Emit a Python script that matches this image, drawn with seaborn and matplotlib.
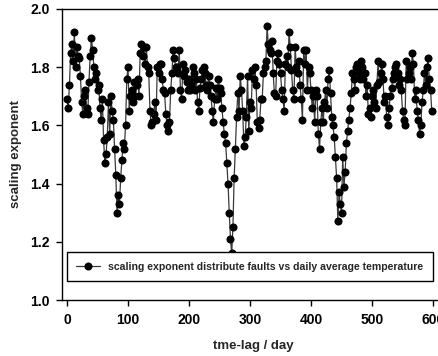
import numpy as np
import pandas as pd
import matplotlib
matplotlib.use("Agg")
import matplotlib.pyplot as plt
import seaborn as sns

# time lag (days), step of 2 days
lag_start = 0
lag_step = 2

# scaling exponent values, rows of 10 points (20 days each)
scaling_exponent = [
    1.69, 1.66, 1.74, 1.85, 1.88, 1.82, 1.92, 1.80, 1.87, 1.84,
    1.83, 1.77, 1.68, 1.64, 1.70, 1.72, 1.66, 1.64, 1.75, 1.84,
    1.90, 1.86, 1.80, 1.76, 1.78, 1.72, 1.74, 1.66, 1.62, 1.69,
    1.55, 1.47, 1.50, 1.56, 1.68, 1.57, 1.70, 1.65, 1.62, 1.52,
    1.43, 1.30, 1.36, 1.33, 1.42, 1.48, 1.54, 1.52, 1.60, 1.76,
    1.80, 1.65, 1.70, 1.72, 1.68, 1.75, 1.70, 1.74, 1.76, 1.70,
    1.85, 1.88, 1.84, 1.87, 1.81, 1.87, 1.80, 1.78, 1.65, 1.60,
    1.61, 1.64, 1.68, 1.62, 1.80, 1.78, 1.81, 1.81, 1.76, 1.72,
    1.71, 1.64, 1.60, 1.58, 1.61, 1.72, 1.78, 1.86, 1.83, 1.80,
    1.80, 1.78, 1.86, 1.72, 1.69, 1.81, 1.77, 1.79, 1.75, 1.72,
    1.76, 1.72, 1.74, 1.80, 1.78, 1.72, 1.76, 1.68, 1.65, 1.73,
    1.76, 1.79, 1.80, 1.78, 1.74, 1.72, 1.77, 1.74, 1.70, 1.65,
    1.61, 1.69, 1.73, 1.69, 1.76, 1.73, 1.71, 1.66, 1.61, 1.57,
    1.54, 1.47, 1.40, 1.30, 1.21, 1.16, 1.25, 1.42, 1.52, 1.63,
    1.71, 1.65, 1.77, 1.72, 1.65, 1.53, 1.56, 1.63, 1.77, 1.58,
    1.68, 1.66, 1.79, 1.76, 1.80, 1.74, 1.61, 1.59, 1.62, 1.69,
    1.69, 1.78, 1.80, 1.82, 1.94, 1.88, 1.86, 1.85, 1.89, 1.78,
    1.71, 1.70, 1.82, 1.85, 1.81, 1.78, 1.72, 1.69, 1.65, 1.81,
    1.84, 1.80, 1.92, 1.87, 1.79, 1.72, 1.69, 1.87, 1.80, 1.78,
    1.82, 1.74, 1.69, 1.62, 1.86, 1.81, 1.86, 1.72, 1.80, 1.78,
    1.72, 1.66, 1.70, 1.61, 1.72, 1.70, 1.57, 1.52, 1.61, 1.66,
    1.61, 1.68, 1.72, 1.66, 1.76, 1.79, 1.71, 1.63, 1.60, 1.56,
    1.49, 1.42, 1.27, 1.37, 1.33, 1.30, 1.49, 1.39, 1.44, 1.54,
    1.58, 1.62, 1.66, 1.71, 1.78, 1.76, 1.72, 1.80, 1.81, 1.78,
    1.76, 1.82, 1.80, 1.76, 1.78, 1.70, 1.74, 1.64, 1.66, 1.63,
    1.70, 1.72, 1.68, 1.66, 1.74, 1.82, 1.75, 1.78, 1.81, 1.76,
    1.68, 1.70, 1.63, 1.60, 1.66, 1.70, 1.73, 1.76, 1.78, 1.80,
    1.81, 1.78, 1.74, 1.76, 1.72, 1.65, 1.62, 1.60, 1.82, 1.76,
    1.78, 1.80, 1.76, 1.85, 1.81, 1.69, 1.72, 1.65, 1.62, 1.57,
    1.60, 1.68, 1.72, 1.78, 1.74, 1.80, 1.83, 1.76, 1.72, 1.65,
]
time_lag = [lag_start + lag_step * i for i in range(len(scaling_exponent))]

x_ticks = [0, 100, 200, 300, 400, 500, 600]
y_ticks = [1.0, 1.2, 1.4, 1.6, 1.8, 2.0]
series_label = "scaling exponent distribute faults vs daily average temperature"

df = pd.DataFrame({"lag": time_lag, "value": scaling_exponent})

sns.set_style("ticks")
plt.rcParams["font.family"] = ["Liberation Sans", "DejaVu Sans"]
plt.rcParams["font.weight"] = "bold"

W, H = 439, 356
fig = plt.figure(figsize=(W / 100, H / 100), dpi=100)
x0, x1 = -8.2, 620.0
pxday = 0.61
ax = fig.add_axes([62 / W, 56 / H, (x1 - x0) * pxday / W, 291 / H])

sns.lineplot(data=df, x="lag", y="value", ax=ax, color="#3a3a3a", linewidth=0.9,
             marker="o", markersize=5.8, markerfacecolor="black",
             markeredgecolor="black", markeredgewidth=0, label=series_label,
             legend=False)

ax.set_xlim(x0, x1)
ax.set_ylim(1.0, 2.0)
ax.set_xticks(x_ticks)
ax.set_yticks(y_ticks)
ax.set_xticklabels([str(t) for t in x_ticks])
ax.set_yticklabels([f"{t:.1f}" for t in y_ticks])
ax.tick_params(axis="both", direction="out", length=4, width=1, labelsize=10,
               colors="black", pad=5)
for lab in ax.get_xticklabels() + ax.get_yticklabels():
    lab.set_fontweight("bold")
for s in ax.spines.values():
    s.set_linewidth(1.0)
    s.set_color("black")

ax.set_xlabel("tme-lag / day", fontsize=9.5, fontweight="bold", labelpad=10)
ax.set_ylabel("scaling exponent", fontsize=9.5, fontweight="bold", labelpad=6)

leg = ax.legend(loc="lower left",
                bbox_to_anchor=(67 / W, 1 - 281 / H, (433 - 67) / W, 31 / H),
                bbox_transform=fig.transFigure, mode="expand",
                frameon=True, fancybox=False, edgecolor="black",
                prop={"size": 7.6, "weight": "bold"}, handlelength=2.2,
                borderaxespad=0, borderpad=0.9)
leg.get_frame().set_linewidth(1.0)
leg.get_frame().set_alpha(1)

fig.savefig("out.png", dpi=100)
